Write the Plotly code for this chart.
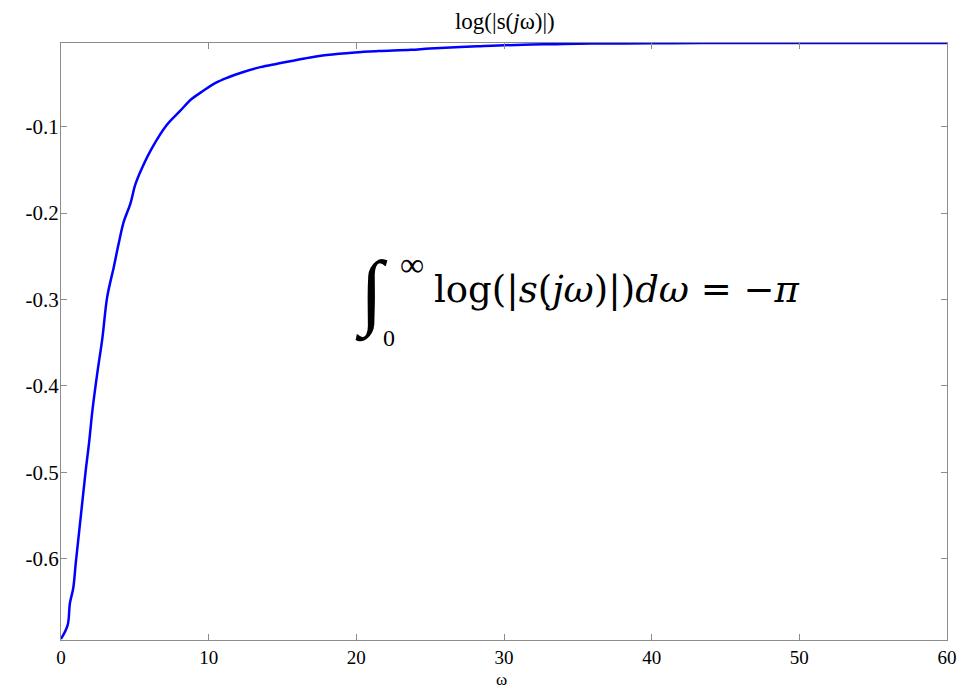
import plotly.graph_objects as go

# valores: omega e log(|s(jw)|)
omega = [0.0, 0.45, 0.6, 0.83, 1.0, 1.34, 1.68, 1.9, 2.13, 2.46, 2.8, 3.13, 3.58, 3.91,
         4.25, 4.7, 5.03, 5.48, 6.15, 7.16, 8.05, 8.84, 9.5, 10.5, 11.3, 12.3, 13.5,
         14.65, 16.5, 18.0, 19.9, 21.5, 23.7, 25.0, 28.2, 31.3, 33.5, 36.0, 40.0, 43.5,
         50.0, 60.0]
log_s = [-0.693, -0.677, -0.652, -0.634, -0.605, -0.551, -0.497, -0.466, -0.428, -0.385,
         -0.345, -0.297, -0.262, -0.235, -0.210, -0.189, -0.167, -0.148, -0.125, -0.098,
         -0.082, -0.068, -0.060, -0.049, -0.043, -0.037, -0.031, -0.027, -0.021, -0.017,
         -0.014, -0.0125, -0.011, -0.0095, -0.007, -0.005, -0.0045, -0.0038, -0.0035,
         -0.0032, -0.0031, -0.0030]

x_ticks = [0, 10, 20, 30, 40, 50, 60]
y_ticks = [-0.6, -0.5, -0.4, -0.3, -0.2, -0.1]
y_labels = ["-0.6", "-0.5", "-0.4", "-0.3", "-0.2", "-0.1"]

fonte = "Liberation Serif"
cor_eixo = "#8c8c8c"

fig = go.Figure()
fig.add_trace(go.Scatter(x=omega, y=log_s, mode="lines", line_shape="spline",
                         line=dict(color="#0000ff", width=2.5), showlegend=False))

fig.update_layout(
    width=969, height=690,
    margin=dict(l=61, r=22, t=43, b=50),
    plot_bgcolor="white", paper_bgcolor="white",
    font=dict(family=fonte, color="black"),
    title=dict(text="log(|s(<i>j</i>ω)|)", x=0.521, xanchor="center", y=0.969,
               yanchor="middle", font=dict(family=fonte, size=23)),
)
fig.update_xaxes(range=[0, 60], tickvals=x_ticks, ticks="inside", ticklen=6,
                 tickcolor=cor_eixo, showgrid=False, zeroline=False, automargin=False,
                 showline=True, linecolor=cor_eixo, linewidth=1, mirror="ticks",
                 tickfont=dict(family=fonte, size=19))
fig.update_yaxes(range=[-0.6942, -0.0031], tickvals=y_ticks, ticktext=y_labels,
                 ticks="inside", ticklen=6, tickcolor=cor_eixo, showgrid=False,
                 zeroline=False, showline=True, linecolor=cor_eixo, linewidth=1,
                 automargin=False, ticklabelstandoff=-3,
                 mirror="ticks", tickfont=dict(family=fonte, size=21))

# rótulo do eixo x
fig.add_annotation(x=0.497, y=0, xref="paper", yref="paper", yanchor="middle",
                   yshift=-39, text="ω", showarrow=False,
                   font=dict(family=fonte, size=17))

# formula escrita como texto
fig.add_annotation(x=21.0, y=-0.292, xref="x", yref="y", text="<i>∫</i>",
                   showarrow=False, font=dict(family=fonte, size=84))
fig.add_annotation(x=23.8, y=-0.260, xref="x", yref="y", text="∞",
                   showarrow=False, font=dict(family=fonte, size=34))
fig.add_annotation(x=22.2, y=-0.345, xref="x", yref="y", text="0",
                   showarrow=False, font=dict(family=fonte, size=24))
fig.add_annotation(x=25.14, y=-0.289, xref="x", yref="y", xanchor="left",
                   text="log(|<i>s</i>(<i>jω</i>)|)<i>dω</i> = −<i>π</i>",
                   showarrow=False, font=dict(family="DejaVu Serif", size=37))

# sem margem do body, a figura fica no canto da janela
fig.write_html("out.html", config={"displayModeBar": False},
               post_script="document.body.style.margin='0';")
